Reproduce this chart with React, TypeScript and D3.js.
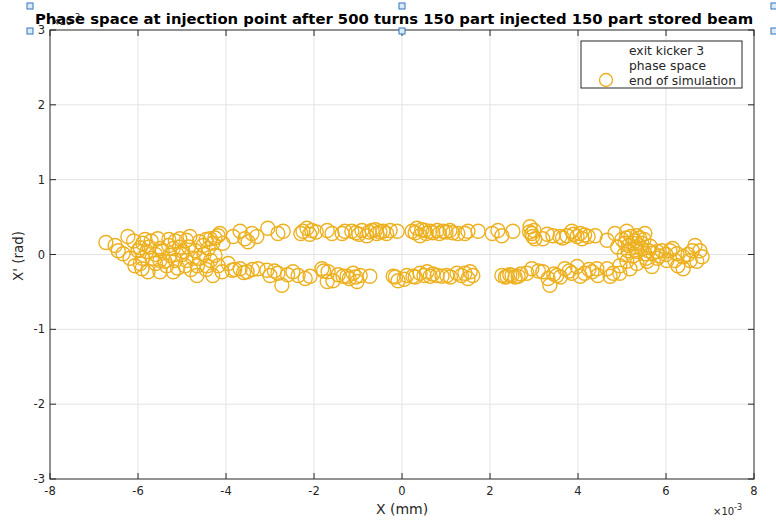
import React from "react";
import * as d3 from "d3";

// Phase-space coordinates, both axes in units of 1e-3.
const upperArc: [number, number][] = [
  [-6.73, 0.16], [-6.52, 0.12], [-6.23, 0.24], [-6.1, 0.18], [-5.95, 0.09], [-5.89, 0.15], [-5.84, 0.2],
  [-5.7, 0.18], [-5.55, 0.21], [-5.5, 0.08], [-5.3, 0.2], [-5.15, 0.18], [-5.05, 0.21], [-4.98, 0.04],
  [-4.9, 0.19], [-4.82, 0.24], [-4.6, 0.17], [-4.52, 0.12], [-4.45, 0.2], [-4.36, 0.21], [-4.3, 0.15],
  [-4.25, 0.22], [-4.18, 0.25], [-4.14, 0.28], [-4.07, 0.15], [-3.84, 0.24], [-3.68, 0.31], [-3.57, 0.21],
  [-3.5, 0.17], [-3.41, 0.28], [-3.3, 0.24], [-3.05, 0.35], [-2.82, 0.28], [-2.7, 0.31], [-2.3, 0.28],
  [-2.25, 0.31], [-2.16, 0.35], [-2.1, 0.27], [-2.05, 0.32], [-1.95, 0.3], [-1.7, 0.32], [-1.59, 0.28],
  [-1.36, 0.28], [-1.3, 0.31], [-1.14, 0.31], [-1.05, 0.29], [-0.98, 0.27], [-0.91, 0.32], [-0.8, 0.25],
  [-0.75, 0.3], [-0.68, 0.32], [-0.6, 0.33], [-0.57, 0.28], [-0.5, 0.3], [-0.43, 0.31], [-0.35, 0.28],
  [-0.27, 0.32], [-0.11, 0.31], [0.23, 0.31], [0.3, 0.29], [0.34, 0.35], [0.41, 0.25], [0.45, 0.33],
  [0.52, 0.32], [0.55, 0.28], [0.64, 0.31], [0.7, 0.29], [0.8, 0.32], [0.85, 0.28], [0.93, 0.31],
  [1.0, 0.3], [1.09, 0.32], [1.15, 0.29], [1.27, 0.28], [1.43, 0.28], [1.5, 0.31], [1.73, 0.31],
  [2.05, 0.28], [2.18, 0.32], [2.27, 0.25], [2.52, 0.31], [2.9, 0.3], [2.91, 0.37], [2.95, 0.28],
  [2.97, 0.24], [3.0, 0.32], [3.02, 0.21], [3.2, 0.21], [3.3, 0.27], [3.43, 0.25], [3.59, 0.24],
  [3.65, 0.22], [3.75, 0.25], [3.86, 0.31], [3.9, 0.27], [3.98, 0.24], [4.05, 0.28], [4.09, 0.21],
  [4.15, 0.26], [4.23, 0.24], [4.39, 0.25], [4.66, 0.19], [4.84, 0.28], [5.07, 0.15], [5.11, 0.31],
  [5.25, 0.15], [5.34, 0.25], [5.45, 0.15], [5.52, 0.28], [5.64, 0.11], [6.66, 0.12], [6.77, 0.05],
];

const lowerArc: [number, number][] = [
  [-6.34, 0.01], [-6.18, -0.05], [-6.07, -0.15], [-5.91, -0.19], [-5.77, -0.23], [-5.5, -0.23],
  [-5.2, -0.23], [-4.93, -0.15], [-4.66, -0.28], [-4.43, -0.15], [-4.3, -0.28], [-4.18, -0.15],
  [-4.09, -0.23], [-3.95, -0.12], [-3.86, -0.21], [-3.8, -0.2], [-3.68, -0.19], [-3.6, -0.24],
  [-3.52, -0.23], [-3.4, -0.2], [-3.27, -0.19], [-3.07, -0.21], [-3.0, -0.28], [-2.9, -0.22],
  [-2.82, -0.25], [-2.73, -0.41], [-2.6, -0.27], [-2.48, -0.23], [-2.36, -0.28], [-2.2, -0.32],
  [-2.09, -0.29], [-1.82, -0.19], [-1.78, -0.22], [-1.7, -0.36], [-1.68, -0.23], [-1.57, -0.35],
  [-1.45, -0.27], [-1.34, -0.29], [-1.25, -0.29], [-1.2, -0.32], [-1.11, -0.25], [-1.05, -0.3],
  [-1.02, -0.36], [-0.95, -0.28], [-0.73, -0.29], [-0.2, -0.29], [-0.15, -0.3], [-0.09, -0.35],
  [0.05, -0.33], [0.11, -0.28], [0.25, -0.29], [0.3, -0.3], [0.41, -0.25], [0.5, -0.28], [0.57, -0.23],
  [0.64, -0.29], [0.7, -0.26], [0.8, -0.28], [0.91, -0.29], [1.02, -0.28], [1.1, -0.3], [1.25, -0.25],
  [1.35, -0.28], [1.43, -0.25], [1.5, -0.32], [1.55, -0.23], [1.61, -0.28], [2.27, -0.28], [2.35, -0.3],
  [2.39, -0.29], [2.45, -0.27], [2.5, -0.28], [2.57, -0.3], [2.64, -0.29], [2.7, -0.26], [2.84, -0.25],
  [2.95, -0.19], [3.1, -0.22], [3.2, -0.23], [3.32, -0.32], [3.36, -0.41], [3.45, -0.26], [3.52, -0.28],
  [3.6, -0.3], [3.7, -0.19], [3.8, -0.22], [3.86, -0.25], [3.98, -0.16], [4.05, -0.29], [4.15, -0.25],
  [4.25, -0.2], [4.32, -0.23], [4.43, -0.19], [4.45, -0.28], [4.66, -0.19], [4.73, -0.29], [4.8, -0.25],
  [4.95, -0.15], [4.95, -0.25], [5.11, -0.09], [5.18, -0.19], [5.34, -0.12], [5.57, -0.09], [5.68, -0.16],
  [5.8, -0.05], [6.02, -0.08], [6.27, -0.15], [6.39, -0.19],
];

const leftCore: [number, number][] = [
  [-6.45, 0.05], [-6.0, 0.05], [-5.95, -0.12], [-5.9, -0.05], [-5.8, 0.04], [-5.75, 0.1], [-5.68, -0.05],
  [-5.6, 0.0], [-5.6, -0.12], [-5.5, -0.08], [-5.45, 0.05], [-5.39, -0.09], [-5.35, -0.15], [-5.3, 0.12],
  [-5.27, -0.01], [-5.2, 0.08], [-5.15, -0.08], [-5.1, -0.18], [-5.05, 0.1], [-5.0, 0.0], [-4.9, -0.08],
  [-4.85, 0.1], [-4.8, -0.2], [-4.75, -0.05], [-4.7, 0.05], [-4.65, -0.15], [-4.6, -0.05], [-4.5, 0.0],
  [-4.45, -0.2], [-4.4, 0.08], [-4.35, -0.08], [-4.25, -0.01],
];

const rightCore: [number, number][] = [
  [4.9, 0.1], [5.0, 0.2], [5.05, 0.0], [5.1, 0.22], [5.14, 0.05], [5.15, 0.12], [5.2, 0.24], [5.25, -0.02],
  [5.3, 0.18], [5.3, 0.1], [5.34, 0.04], [5.4, 0.22], [5.45, 0.08], [5.5, 0.2], [5.52, 0.01], [5.55, -0.05],
  [5.6, 0.05], [5.7, 0.02], [5.8, 0.04], [5.85, -0.02], [5.91, 0.05], [6.0, 0.0], [6.09, 0.05], [6.15, 0.08],
  [6.2, -0.08], [6.25, 0.01], [6.39, -0.03], [6.5, 0.0], [6.55, -0.08], [6.6, 0.05], [6.7, -0.09], [6.82, -0.03],
];

const xTicks = [-8, -6, -4, -2, 0, 2, 4, 6, 8];
const yTicks = [-3, -2, -1, 0, 1, 2, 3];
const legendEntries = ["exit kicker 3", "phase space", "end of simulation"];
const titleText = "Phase space at injection point after 500 turns 150 part injected 150 part stored beam";

const W = 776;
const H = 520;
const M = { left: 50, right: 754, top: 30, bottom: 479 };
const markerColor = "#EDB120";
const axisColor = "#262626";
const font = "'DejaVu Sans', sans-serif";

export default function App() {
  const x = d3.scaleLinear().domain([-8, 8]).range([M.left, M.right]);
  const y = d3.scaleLinear().domain([-3, 3]).range([M.bottom, M.top]);
  const points = [...upperArc, ...lowerArc, ...leftCore, ...rightCore];
  const tickLen = 6;

  const handles: [number, number][] = [
    [30, 6], [402, 6], [774, 6],
    [30, 31], [402, 31], [774, 31],
  ];

  return (
    <div style={{ position: "fixed", left: 0, top: 0 }}>
      <svg width={W} height={H} style={{ display: "block", background: "#fff" }} fontFamily={font}>
        {/* grid */}
        {xTicks.slice(1, -1).map((t) => (
          <line key={"gx" + t} x1={x(t)} x2={x(t)} y1={M.top} y2={M.bottom} stroke="#e3e3e3" strokeWidth={1} />
        ))}
        {yTicks.slice(1, -1).map((t) => (
          <line key={"gy" + t} x1={M.left} x2={M.right} y1={y(t)} y2={y(t)} stroke="#e3e3e3" strokeWidth={1} />
        ))}

        {/* particles */}
        {points.map(([px, py], i) => (
          <circle key={i} cx={x(px)} cy={y(py)} r={7} fill="none" stroke={markerColor} strokeWidth={1.4} />
        ))}

        {/* axes box */}
        <rect x={M.left} y={M.top} width={M.right - M.left} height={M.bottom - M.top} fill="none" stroke={axisColor} strokeWidth={1} />
        {xTicks.map((t) => (
          <g key={"tx" + t}>
            <line x1={x(t)} x2={x(t)} y1={M.bottom} y2={M.bottom - tickLen} stroke={axisColor} />
            <line x1={x(t)} x2={x(t)} y1={M.top} y2={M.top + tickLen} stroke={axisColor} />
            <text x={x(t)} y={M.bottom + 16} fontSize={11.5} fill={axisColor} textAnchor="middle">{t}</text>
          </g>
        ))}
        {yTicks.map((t) => (
          <g key={"ty" + t}>
            <line x1={M.left} x2={M.left + tickLen} y1={y(t)} y2={y(t)} stroke={axisColor} />
            <line x1={M.right} x2={M.right - tickLen} y1={y(t)} y2={y(t)} stroke={axisColor} />
            <text x={M.left - 5} y={y(t) + 4} fontSize={11.5} fill={axisColor} textAnchor="end">{t}</text>
          </g>
        ))}

        {/* axis labels */}
        <text x={402} y={514} fontSize={14} fill={axisColor} textAnchor="middle">X (mm)</text>
        <text transform="translate(23,256) rotate(-90)" fontSize={13.5} fill={axisColor} textAnchor="middle">X' (rad)</text>

        {/* exponent labels */}
        <text x={713} y={515} fontSize={10} fill={axisColor}>
          ×10<tspan dy={-5} fontSize={8}>-3</tspan>
        </text>
        <text x={51} y={25} fontSize={10} fill={axisColor}>
          ×10<tspan dy={-5} fontSize={8}>-3</tspan>
        </text>

        {/* legend */}
        <rect x={581} y={41} width={161} height={47} fill="#fff" stroke={axisColor} strokeWidth={1} />
        {legendEntries.map((s, i) => (
          <text key={s} x={629} y={55 + i * 14.8} fontSize={12.3} fill={axisColor}>{s}</text>
        ))}
        <circle cx={606} cy={80} r={6.5} fill="none" stroke={markerColor} strokeWidth={1.4} />

        {/* title */}
        <text x={394} y={24} fontSize={14.8} fontWeight="bold" fill="#000" textAnchor="middle">{titleText}</text>

        {/* selection handles */}
        {handles.map(([hx, hy], i) => (
          <rect key={"h" + i} x={hx - 3} y={hy - 3} width={6} height={6} fill="#dceaf8" stroke="#2f74c0" strokeWidth={1} />
        ))}
      </svg>
    </div>
  );
}
